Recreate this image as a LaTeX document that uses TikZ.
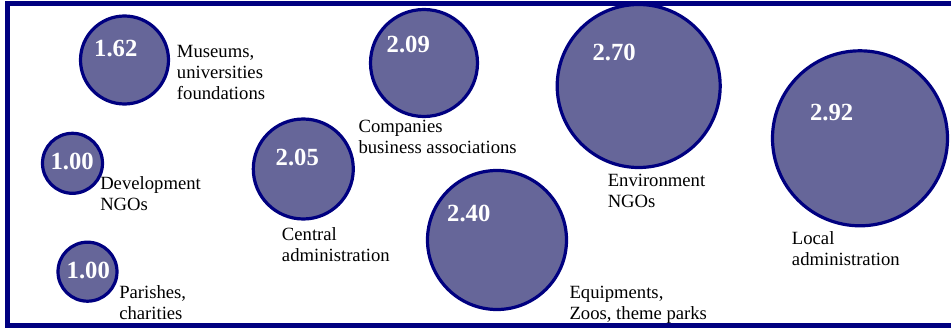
\documentclass[tikz,border=0pt]{standalone}
\usepackage{fontspec}
\setmainfont{Liberation Serif}
\definecolor{bubblefill}{HTML}{666699}
\definecolor{navyline}{HTML}{000080}
\tikzset{
  bubble/.style={circle, draw=navyline, fill=bubblefill, line width=2.4pt, inner sep=0pt},
  num/.style={text=white, font=\fontsize{18.5}{20}\selectfont\bfseries, inner sep=0pt},
  lab/.style={anchor=base west, align=left, inner sep=0pt, text=black, font=\fontsize{14}{15.75}\selectfont},
  frameline/.style={draw=navyline, line width=3.75pt}
}
\begin{document}
\begin{tikzpicture}[x=0.75pt, y=-0.75pt]
\useasboundingbox (0,0) rectangle (951,328);
\fill[white] (0,0) rectangle (951,328);
% frame (right side cropped in reference)
\coordinate (ftr) at (951,3.5);
\coordinate (ftl) at (7.5,3.5);
\coordinate (fbl) at (7.5,325.5);
\coordinate (fbr) at (951,325.5);
\draw[frameline] (ftr) -- (ftl) -- (fbl) -- (fbr);

% bubbles
\node[bubble, minimum size=66pt]     (c1) at (124.5,60) {};
\node[bubble, minimum size=45pt]     (c2) at (72.5,163.3) {};
\node[bubble, minimum size=44.25pt]  (c3) at (87.5,271.7) {};
\node[bubble, minimum size=75pt]     (c4) at (303.3,169) {};
\node[bubble, minimum size=80.25pt]  (c5) at (424,63) {};
\node[bubble, minimum size=122.25pt] (c6) at (638.7,86) {};
\node[bubble, minimum size=104.25pt] (c7) at (497,240) {};
\node[bubble, minimum size=131.25pt] (c8) at (860,138.3) {};

% values
\node[num] (n1) at (115.8,49)    {1.62};
\node[num] (n2) at (72.2,161.7)  {1.00};
\node[num] (n3) at (88.3,270)    {1.00};
\node[num] (n4) at (297.3,157.7) {2.05};
\node[num] (n5) at (408.3,44.3)  {2.09};
\node[num] (n6) at (614.2,52)    {2.70};
\node[num] (n7) at (468.8,213.3) {2.40};
\node[num] (n8) at (831.7,112.8) {2.92};

% labels (anchored at the baseline of the last line)
\node[lab] (l1) at (176.7,99.3)  {Museums,\\universities\\foundations};
\node[lab] (l2) at (100,210)     {Development\\NGOs};
\node[lab] (l3) at (119,319)     {Parishes,\\charities};
\node[lab] (l4) at (281.7,261.7) {Central\\administration};
\node[lab] (l5) at (358.3,153.7) {Companies\\business associations};
\node[lab] (l6) at (607.5,207.5) {Environment\\NGOs};
\node[lab] (l7) at (569.3,319.8) {Equipments,\\Zoos, theme parks};
\node[lab] (l8) at (791.7,265)   {Local\\administration};
\end{tikzpicture}
\end{document}
